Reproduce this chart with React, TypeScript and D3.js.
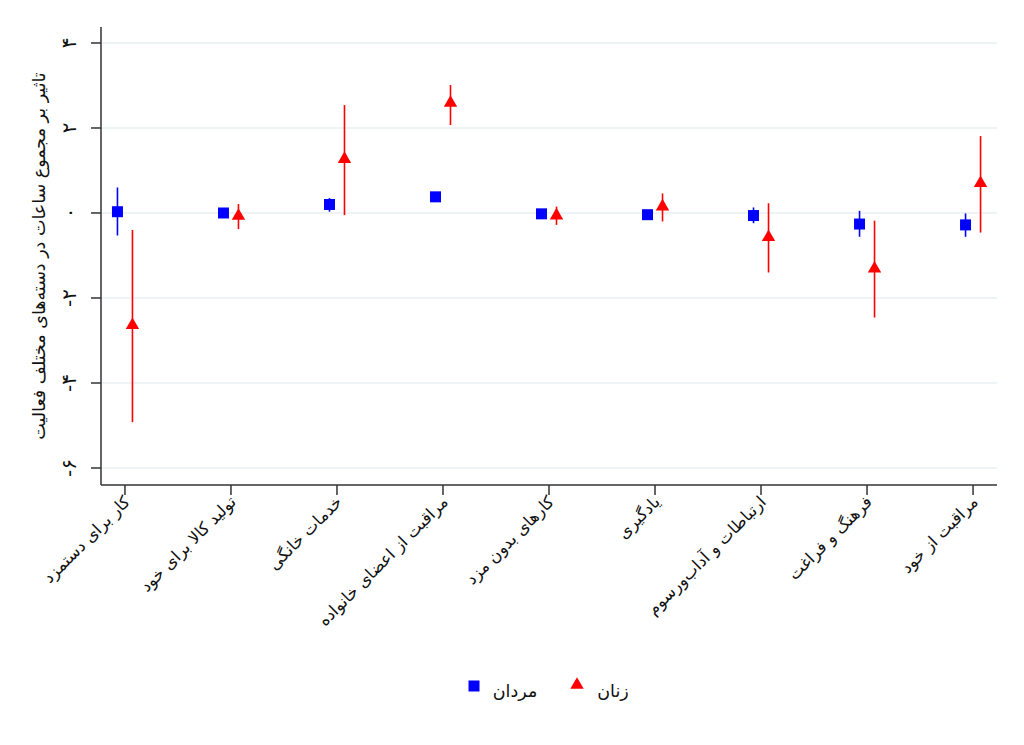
import React from 'react';
import * as d3 from 'd3';

const categories = [
  'کار برای دستمزد',
  'تولید کالا برای خود',
  'خدمات خانگی',
  'مراقبت از اعضای خانواده',
  'کارهای بدون مزد',
  'یادگیری',
  'ارتباطات و آداب‌ورسوم',
  'فرهنگ و فراغت',
  'مراقبت از خود',
];

const menValues = [0.03, 0.0, 0.2, 0.38, -0.02, -0.04, -0.06, -0.26, -0.28];
const menLow = [-0.53, 0.0, 0.03, 0.38, -0.02, -0.04, -0.24, -0.56, -0.56];
const menHigh = [0.6, 0.0, 0.35, 0.38, -0.02, -0.04, 0.13, 0.05, -0.01];

const womenValues = [-2.64, -0.07, 1.27, 2.59, -0.06, 0.15, -0.57, -1.31, 0.7];
const womenLow = [-4.92, -0.38, -0.05, 2.07, -0.28, -0.2, -1.4, -2.46, -0.46];
const womenHigh = [-0.4, 0.21, 2.54, 3.01, 0.15, 0.46, 0.23, -0.18, 1.81];

const yTicks = [4, 2, 0, -2, -4, -6];
const yTickLabels = ['۴', '۲', '۰', '-۲', '-۴', '-۶'];

const yTitle = 'تاثیر بر مجموع ساعات در دسته‌های مختلف فعالیت';
const legendLabels = ['مردان', 'زنان'];

const W = 1024;
const H = 745;
const left = 101;
const right = 997;
const top = 27;
const bottom = 485;

const FONT = '"DejaVu Sans", "Noto Sans", sans-serif';
const BLUE = '#0000ff';
const RED = '#ff0000';

export default function App() {
  const x = d3
    .scalePoint<string>()
    .domain(categories)
    .range([left, right])
    .padding(0.226);
  const y = d3.scaleLinear().domain([-6.4, 4.376]).range([bottom, top]);

  const square = d3.symbol().type(d3.symbolSquare).size(121)() || '';
  const triangle = d3.symbol().type(d3.symbolTriangle).size(78)() || '';
  const off = 7.5;

  return (
    <svg width={W} height={H} style={{ position: 'absolute', left: 0, top: 0 }}>
      <rect width={W} height={H} fill="#fff" />
      {/* grid */}
      {yTicks.map((t) => (
        <line key={'g' + t} x1={left} x2={right} y1={y(t)} y2={y(t)} stroke="#e9f0f2" strokeWidth={1.6} />
      ))}
      {/* axes */}
      <line x1={left} x2={left} y1={top} y2={bottom} stroke="#333" strokeWidth={1.5} />
      <line x1={left} x2={right} y1={bottom} y2={bottom} stroke="#333" strokeWidth={1.5} />
      {yTicks.map((t, i) => (
        <g key={'yt' + t}>
          <line x1={left - 10} x2={left} y1={y(t)} y2={y(t)} stroke="#333" strokeWidth={1.5} />
          <text
            transform={`translate(${76},${y(t)}) rotate(-90)`}
            textAnchor="middle"
            fontFamily={FONT}
            fontSize={20}
            fill="#111"
          >
            {yTickLabels[i]}
          </text>
        </g>
      ))}
      <text
        transform={`translate(${45},${(top + bottom) / 2}) rotate(-90)`}
        textAnchor="middle"
        fontFamily={FONT}
        fontSize={17.5}
        fill="#111"
      >
        {yTitle}
      </text>
      {categories.map((c) => {
        const cx = x(c) as number;
        return (
          <g key={'xt' + c}>
            <line x1={cx} x2={cx} y1={bottom} y2={bottom + 10} stroke="#333" strokeWidth={1.5} />
            <text
              transform={`translate(${cx + 6},${bottom + 18}) rotate(-45)`}
              textAnchor="end"
              fontFamily={FONT}
              fontSize={16.5}
              fill="#111"
            >
              {c}
            </text>
          </g>
        );
      })}
      {/* men */}
      {categories.map((c, i) => {
        const cx = (x(c) as number) - off;
        return (
          <g key={'m' + c}>
            <line x1={cx} x2={cx} y1={y(menLow[i])} y2={y(menHigh[i])} stroke={BLUE} strokeWidth={1.6} />
            <path d={square} transform={`translate(${cx},${y(menValues[i])})`} fill={BLUE} />
          </g>
        );
      })}
      {/* women */}
      {categories.map((c, i) => {
        const cx = (x(c) as number) + off;
        return (
          <g key={'w' + c}>
            <line x1={cx} x2={cx} y1={y(womenLow[i])} y2={y(womenHigh[i])} stroke={RED} strokeWidth={1.6} />
            <path d={triangle} transform={`translate(${cx},${y(womenValues[i])})`} fill={RED} />
          </g>
        );
      })}
      {/* legend */}
      <path d={square} transform="translate(474,686)" fill={BLUE} />
      <text x={515} y={697} textAnchor="middle" fontFamily={FONT} fontSize={17.5} fill="#111">
        {legendLabels[0]}
      </text>
      <path d={triangle} transform="translate(577,685)" fill={RED} />
      <text x={613} y={697} textAnchor="middle" fontFamily={FONT} fontSize={17.5} fill="#111">
        {legendLabels[1]}
      </text>
    </svg>
  );
}
